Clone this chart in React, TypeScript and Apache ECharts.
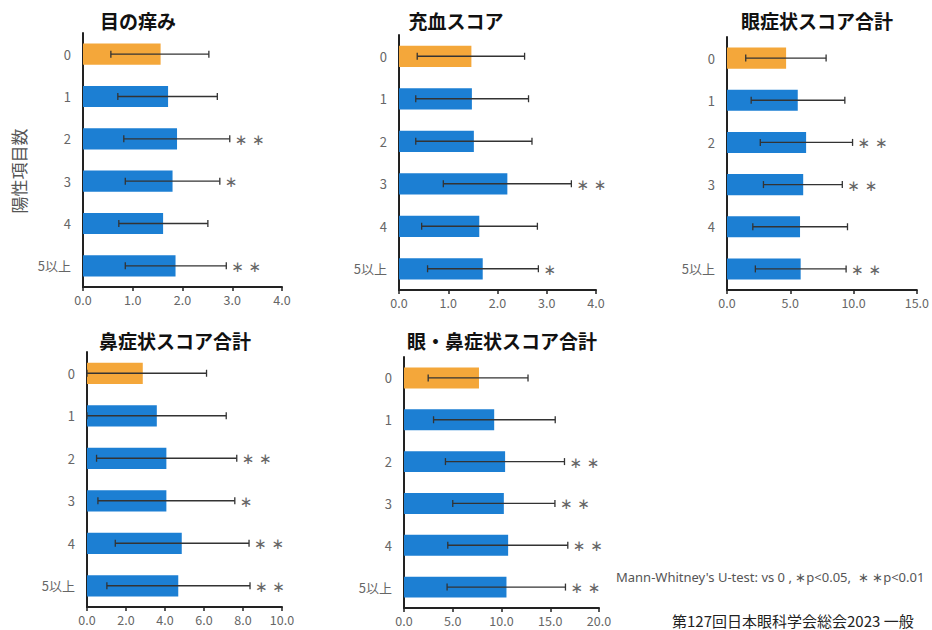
import React, { useEffect, useRef } from "react";
import * as echarts from "echarts";

const categories = ["0", "1", "2", "3", "4", "5以上"];
const titles = ["目の痒み", "充血スコア", "眼症状スコア合計", "鼻症状スコア合計", "眼・鼻症状スコア合計"];
const axisName = "陽性項目数";

// panel 1: 目の痒み
const itchMean = [1.56, 1.71, 1.89, 1.80, 1.61, 1.86];
const itchLow = [0.56, 0.70, 0.82, 0.85, 0.72, 0.85];
const itchHigh = [2.53, 2.70, 2.95, 2.75, 2.51, 2.88];
const itchSig = ["", "", "∗ ∗", "∗", "", "∗ ∗"];

// panel 2: 充血スコア
const rednessMean = [1.47, 1.48, 1.52, 2.20, 1.63, 1.70];
const rednessLow = [0.37, 0.34, 0.34, 0.90, 0.46, 0.58];
const rednessHigh = [2.55, 2.63, 2.70, 3.50, 2.81, 2.83];
const rednessSig = ["", "", "", "∗ ∗", "", "∗"];

// panel 3: 眼症状スコア合計
const eyeMean = [4.67, 5.59, 6.25, 6.02, 5.77, 5.82];
const eyeLow = [1.48, 1.91, 2.63, 2.88, 2.04, 2.24];
const eyeHigh = [7.83, 9.31, 9.92, 9.11, 9.52, 9.41];
const eyeSig = ["", "", "∗ ∗", "∗ ∗", "", "∗ ∗"];

// panel 4: 鼻症状スコア合計
const noseMean = [2.86, 3.58, 4.07, 4.07, 4.86, 4.68];
const noseLow = [0, 0, 0.49, 0.56, 1.45, 1.02];
const noseHigh = [6.13, 7.14, 7.68, 7.58, 8.31, 8.36];
const noseSig = ["", "", "∗ ∗", "∗", "∗ ∗", "∗ ∗"];

// panel 5: 眼・鼻症状スコア合計
const totalMean = [7.69, 9.25, 10.37, 10.24, 10.68, 10.51];
const totalLow = [2.48, 3.03, 4.25, 5.0, 4.49, 4.42];
const totalHigh = [12.72, 15.51, 16.46, 15.48, 16.8, 16.56];
const totalSig = ["", "", "∗ ∗", "∗ ∗", "∗ ∗", "∗ ∗"];

const xMax = [4, 4, 15, 10, 20];
const xInterval = [1, 1, 5, 2, 5];

const footnote = "Mann-Whitney's U-test: vs 0 , ∗p<0.05,  ∗ ∗p<0.01";
const sourceText = "第127回日本眼科学会総会2023 一般";

const panels = [
  { mean: itchMean, low: itchLow, high: itchHigh, sig: itchSig },
  { mean: rednessMean, low: rednessLow, high: rednessHigh, sig: rednessSig },
  { mean: eyeMean, low: eyeLow, high: eyeHigh, sig: eyeSig },
  { mean: noseMean, low: noseLow, high: noseHigh, sig: noseSig },
  { mean: totalMean, low: totalLow, high: totalHigh, sig: totalSig },
];

const grids = [
  { left: 83, top: 33, width: 199, height: 254 },
  { left: 399, top: 35, width: 197, height: 255 },
  { left: 727, top: 37, width: 195, height: 253 },
  { left: 87, top: 352, width: 195, height: 255 },
  { left: 404, top: 357, width: 195, height: 251 },
];

const titlePos = [
  [138, 20],
  [456, 20],
  [817, 20],
  [175, 340],
  [502, 340],
];

const BLUE = "#1c7fd3";
const ORANGE = "#f4a73a";
const FONT = "'Noto Sans CJK JP', 'Noto Sans', sans-serif";

export default function App() {
  const ref = useRef<HTMLDivElement>(null);
  useEffect(() => {
    if (!ref.current) return;
    const chart = echarts.init(ref.current, undefined, { renderer: "svg" });
    const xAxis: any[] = [];
    const yAxis: any[] = [];
    const series: any[] = [];
    panels.forEach((p, i) => {
      xAxis.push({
        type: "value",
        gridIndex: i,
        min: 0,
        max: xMax[i],
        interval: xInterval[i],
        axisLine: { show: true, lineStyle: { color: "#222", width: 2 } },
        axisTick: { show: true, length: 4, lineStyle: { color: "#222", width: 1.5 } },
        splitLine: { show: false },
        axisLabel: {
          color: "#666",
          fontSize: 12.5,
          fontFamily: FONT,
          margin: 6,
          formatter: (v: number) => v.toFixed(1),
        },
      });
      yAxis.push({
        type: "category",
        gridIndex: i,
        data: categories,
        inverse: true,
        axisLine: { show: true, lineStyle: { color: "#222", width: 2 } },
        axisTick: { show: false },
        axisLabel: { color: "#666", fontSize: 13, fontFamily: FONT, margin: 12 },
      });
      series.push({
        type: "bar",
        xAxisIndex: i,
        yAxisIndex: i,
        barWidth: "50%",
        z: 2,
        data: p.mean.map((v, k) => ({
          value: v,
          itemStyle: { color: k === 0 ? ORANGE : BLUE },
        })),
      });
      const sig = p.sig;
      series.push({
        type: "custom",
        xAxisIndex: i,
        yAxisIndex: i,
        z: 5,
        encode: { x: [1, 2], y: 0 },
        data: p.low.map((lo, k) => [k, lo, p.high[k]]),
        renderItem: (params: any, api: any) => {
          const cat = api.value(0);
          const a = api.coord([api.value(1), cat]);
          const b = api.coord([api.value(2), cat]);
          const h = 3.5;
          const st = { stroke: "#333", lineWidth: 1.3 };
          const children: any[] = [
            { type: "line", z2: 10, shape: { x1: a[0], y1: a[1], x2: b[0], y2: b[1] }, style: st },
            { type: "line", z2: 10, shape: { x1: a[0], y1: a[1] - h, x2: a[0], y2: a[1] + h }, style: st },
            { type: "line", z2: 10, shape: { x1: b[0], y1: b[1] - h, x2: b[0], y2: b[1] + h }, style: st },
          ];
          const s = sig[params.dataIndex];
          if (s) {
            children.push({
              type: "text",
              x: b[0] + 5,
              y: b[1] + 1,
              style: {
                text: s,
                fill: "#666",
                fontSize: 15,
                fontFamily: "'DejaVu Sans', sans-serif",
                align: "left",
                verticalAlign: "middle",
              },
            });
          }
          return { type: "group", children };
        },
      });
    });

    const graphic: any[] = titles.map((t, i) => ({
      type: "text",
      x: titlePos[i][0],
      y: titlePos[i][1],
      style: {
        text: t,
        fill: "#111",
        fontSize: 19,
        fontWeight: "bold",
        fontFamily: FONT,
        align: "center",
        verticalAlign: "middle",
      },
    }));
    graphic.push({
      type: "text",
      x: 18,
      y: 171,
      rotation: Math.PI / 2,
      style: {
        text: axisName,
        fill: "#555",
        fontSize: 17,
        fontFamily: FONT,
        align: "center",
        verticalAlign: "middle",
      },
    });
    graphic.push({
      type: "text",
      x: 616,
      y: 577,
      style: {
        text: footnote,
        fill: "#555",
        fontSize: 13,
        fontFamily: "'Noto Sans', sans-serif",
        align: "left",
        verticalAlign: "middle",
      },
    });
    graphic.push({
      type: "text",
      x: 672,
      y: 620,
      style: {
        text: sourceText,
        fill: "#222",
        fontSize: 15,
        fontFamily: FONT,
        align: "left",
        verticalAlign: "middle",
      },
    });

    chart.setOption({
      animation: false,
      backgroundColor: "#ffffff",
      grid: grids.map((g) => ({ ...g, containLabel: false })),
      xAxis,
      yAxis,
      series,
      graphic,
    });
    return () => chart.dispose();
  }, []);
  return (
    <div
      ref={ref}
      style={{ position: "fixed", left: 0, top: 0, width: 932, height: 630, background: "#fff" }}
    />
  );
}
